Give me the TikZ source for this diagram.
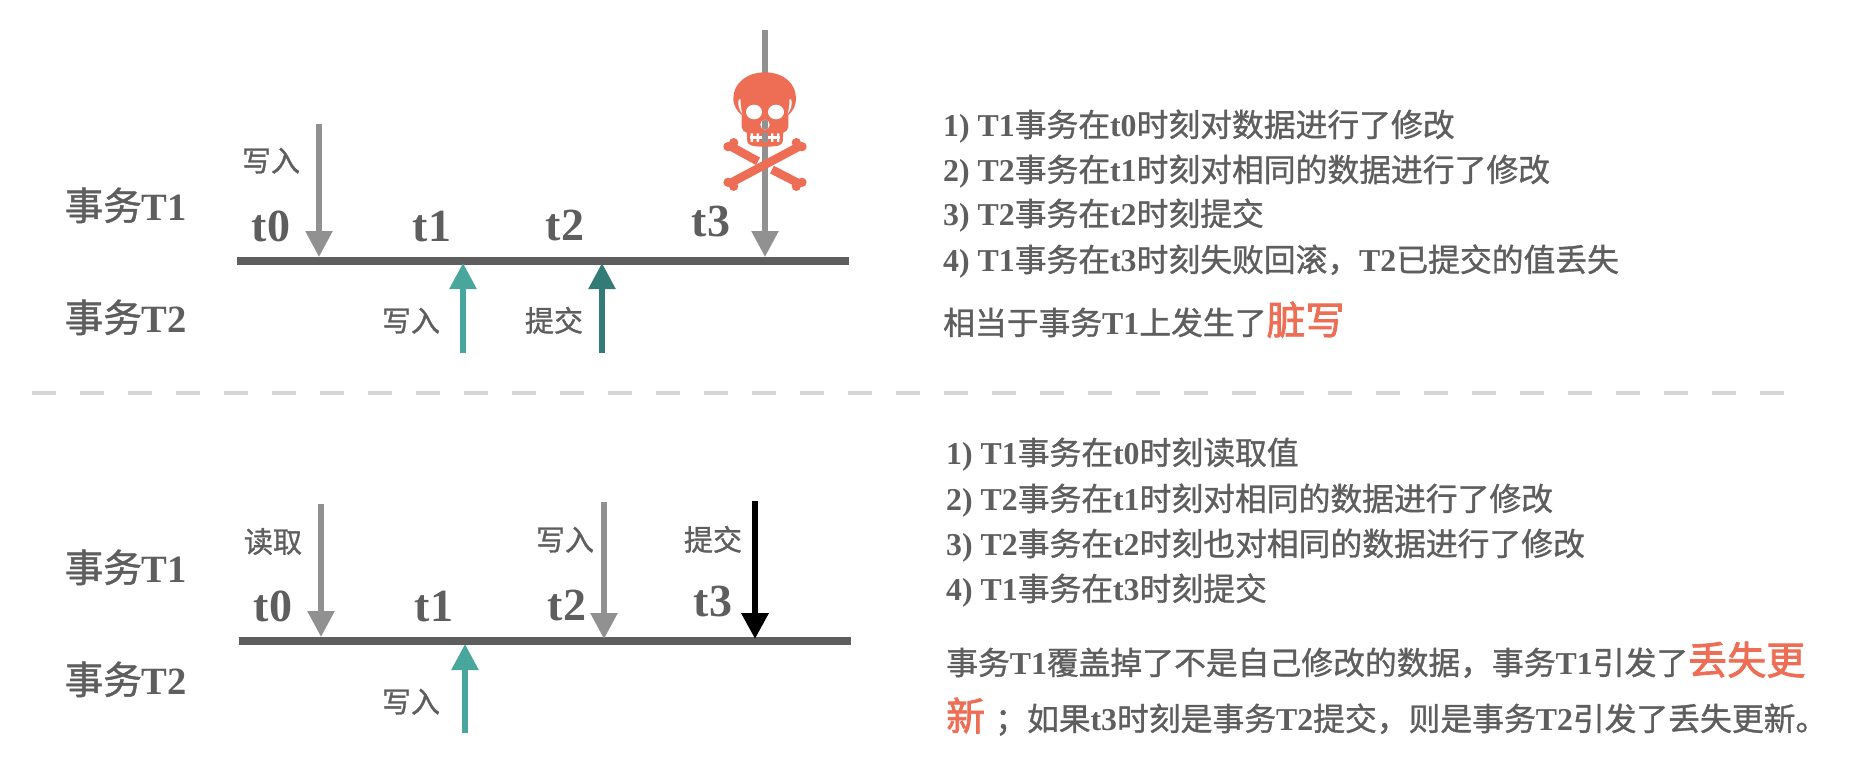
\documentclass[tikz,border=0pt]{standalone}
\usepackage{fontspec}
\usetikzlibrary{arrows.meta}
\setmainfont{Noto Sans CJK SC}[FakeBold=1.1]
\newfontfamily\redf{Noto Sans CJK SC}[FakeBold=2]
\newfontfamily\latf{Liberation Serif}
\newcommand\latn[1]{{\latf\bfseries #1}}
\newcommand\fs[1]{\fontsize{#1}{#1}\selectfont}
\newcommand\hot[2][39]{{\fs{#1}\redf\color{hotred}#2}}
\definecolor{ink}{HTML}{5E5E5E}
\definecolor{hotred}{HTML}{EE6D55}
\definecolor{shaft}{HTML}{919191}
\definecolor{tealA}{HTML}{49A69D}
\definecolor{tealB}{HTML}{327B76}
\definecolor{dashc}{HTML}{D6D6D6}
\tikzset{
  x=1pt,y=-1pt,
  arr/.style={line width=5.5pt,-{Triangle[length=26pt,width=26pt]}},
  axisline/.style={ink,line width=8pt},
  rowlabel/.style={font=\fs{38.6},text=ink,inner sep=0,anchor=west,text height=30pt,text depth=8pt},
  timelabel/.style={font=\fs{46}\latf\bfseries,text=ink,inner sep=0,text height=32pt,text depth=0pt},
  oplabel/.style={font=\fs{29},text=ink,inner sep=0,text height=24pt,text depth=5pt},
  bodytext/.style={font=\fs{31.8},text=ink,inner sep=0,anchor=west,text height=26pt,text depth=7pt},
  bone/.style={hotred,line width=8.5pt},
}
\begin{document}
\begin{tikzpicture}
\useasboundingbox (0,0) rectangle (1856,774);
\fill[white] (0,0) rectangle (1856,774);
% top axis
\coordinate (a1l) at (237,261); \coordinate (a1r) at (849,261);
\draw[axisline] (a1l) -- (a1r);
\coordinate (p0s) at (319,124); \coordinate (p0e) at (319,257);
\coordinate (p3s) at (765,30);  \coordinate (p3e) at (765,257);
\coordinate (q1s) at (463,353); \coordinate (q1e) at (463,263);
\coordinate (q2s) at (602,353); \coordinate (q2e) at (602,263);
\draw[arr,shaft] (p0s) -- (p0e);
\draw[arr,shaft] (p3s) -- (p3e);
\draw[arr,tealA] (q1s) -- (q1e);
\draw[arr,tealB] (q2s) -- (q2e);
% skull
\begin{scope}[shift={(700,20)},x=0.3333pt,y=-0.3333pt]
  \draw[bone] (90,378) -- (174,424);
  \draw[bone] (216,449) -- (300,492);
  \draw[bone] (90,490) -- (300,378);
  \fill[hotred] (84,380) circle (14) (101,368) circle (14)
                (84,487) circle (14) (101,499) circle (14)
                (289,368) circle (14) (306,380) circle (14)
                (289,499) circle (14) (306,487) circle (14);
  \fill[hotred] (100,235) .. controls (100,190) and (140,157) .. (195,157)
     .. controls (250,157) and (288,190) .. (288,235)
     .. controls (288,258) and (278,275) .. (265,285)
     -- (265,322) .. controls (265,332) and (255,335) .. (250,338)
     -- (248,365) .. controls (245,376) and (235,380) .. (195,380)
     .. controls (155,380) and (145,376) .. (142,365)
     -- (140,338) .. controls (135,335) and (125,332) .. (125,322)
     -- (125,285) .. controls (112,275) and (100,258) .. (100,235) -- cycle;
  \fill[white] (116,238) .. controls (112,255) and (118,270) .. (127,282)
     .. controls (124,268) and (120,252) .. (122,238) -- cycle;
  \fill[white] (274,238) .. controls (278,255) and (272,270) .. (263,282)
     .. controls (266,268) and (270,252) .. (268,238) -- cycle;
  \fill[white] (162,276) ellipse (24 and 22);
  \fill[white] (228,276) ellipse (24 and 22);
  \fill[white] (195,314) ellipse (14 and 15);
  \begin{scope}
    \clip (195,314) ellipse (14 and 15);
    \fill[shaft] (187,299) rectangle (203,329);
  \end{scope}
  \fill[white] (150,349) rectangle (240,358);
  \fill[white] (152,340) rectangle (159,366) (170,340) rectangle (177,366)
               (213,340) rectangle (220,366) (231,340) rectangle (238,366);
  \fill[shaft] (187,340) rectangle (203,366);
\end{scope}
% top labels
\node[rowlabel] (r1) at (64.5,209) {事务\latn{T1}};
\node[rowlabel] (r2) at (64.5,321) {事务\latn{T2}};
\node[timelabel] (t0) at (271,225) {t0};
\node[timelabel] (t1) at (432,225) {t1};
\node[timelabel] (t2) at (565,224) {t2};
\node[timelabel] (t3) at (711,220) {t3};
\node[oplabel] (o1) at (271,162) {写入};
\node[oplabel] (o2) at (411,322) {写入};
\node[oplabel] (o3) at (554,322) {提交};
% top text
\node[bodytext] (b1) at (943,127) {\latn{1) T1}事务在\latn{t0}时刻对数据进行了修改};
\node[bodytext] (b2) at (943,172) {\latn{2) T2}事务在\latn{t1}时刻对相同的数据进行了修改};
\node[bodytext] (b3) at (943,216) {\latn{3) T2}事务在\latn{t2}时刻提交};
\node[bodytext] (b4) at (943,262) {\latn{4) T1}事务在\latn{t3}时刻失败回滚，\latn{T2}已提交的值丢失};
\node[bodytext] (b5) at (943,325) {相当于事务\latn{T1}上发生了\hot{脏写}};
% divider
\coordinate (d1) at (32,393); \coordinate (d2) at (1784,393);
\draw[dashc,line width=4pt,dash pattern=on 24pt off 24pt] (d1) -- (d2);
% bottom axis
\coordinate (a2l) at (239,641); \coordinate (a2r) at (851,641);
\draw[axisline] (a2l) -- (a2r);
\coordinate (u0s) at (321,504); \coordinate (u0e) at (321,637);
\coordinate (u2s) at (604,502); \coordinate (u2e) at (604,639);
\coordinate (u3s) at (755,501); \coordinate (u3e) at (755,639);
\coordinate (v1s) at (465,733); \coordinate (v1e) at (465,644);
\draw[arr,shaft] (u0s) -- (u0e);
\draw[arr,shaft] (u2s) -- (u2e);
\draw[arr,black,line width=6.5pt] (u3s) -- (u3e);
\draw[arr,tealA] (v1s) -- (v1e);
\node[rowlabel] (r3) at (64.5,571) {事务\latn{T1}};
\node[rowlabel] (r4) at (64.5,683) {事务\latn{T2}};
\node[timelabel] (s0) at (273,605) {t0};
\node[timelabel] (s1) at (434,605) {t1};
\node[timelabel] (s2) at (567,604) {t2};
\node[timelabel] (s3) at (713,600) {t3};
\node[oplabel] (k1) at (273,543) {读取};
\node[oplabel] (k2) at (565,541) {写入};
\node[oplabel] (k3) at (713,541) {提交};
\node[oplabel] (k4) at (411,703) {写入};
% bottom text
\node[bodytext] (c1) at (946,455) {\latn{1) T1}事务在\latn{t0}时刻读取值};
\node[bodytext] (c2) at (946,501) {\latn{2) T2}事务在\latn{t1}时刻对相同的数据进行了修改};
\node[bodytext] (c3) at (946,546) {\latn{3) T2}事务在\latn{t2}时刻也对相同的数据进行了修改};
\node[bodytext] (c4) at (946,591) {\latn{4) T1}事务在\latn{t3}时刻提交};
\node[bodytext] (c5) at (946,665) {事务\latn{T1}覆盖掉了不是自己修改的数据，事务\latn{T1}引发了\hot{丢失更}};
\node[bodytext] (c6) at (946,721) {\hot{新}\hspace{10pt}；如果\latn{t3}时刻是事务\latn{T2}提交，则是事务\latn{T2}引发了丢失更新。};
\end{tikzpicture}
\end{document}
